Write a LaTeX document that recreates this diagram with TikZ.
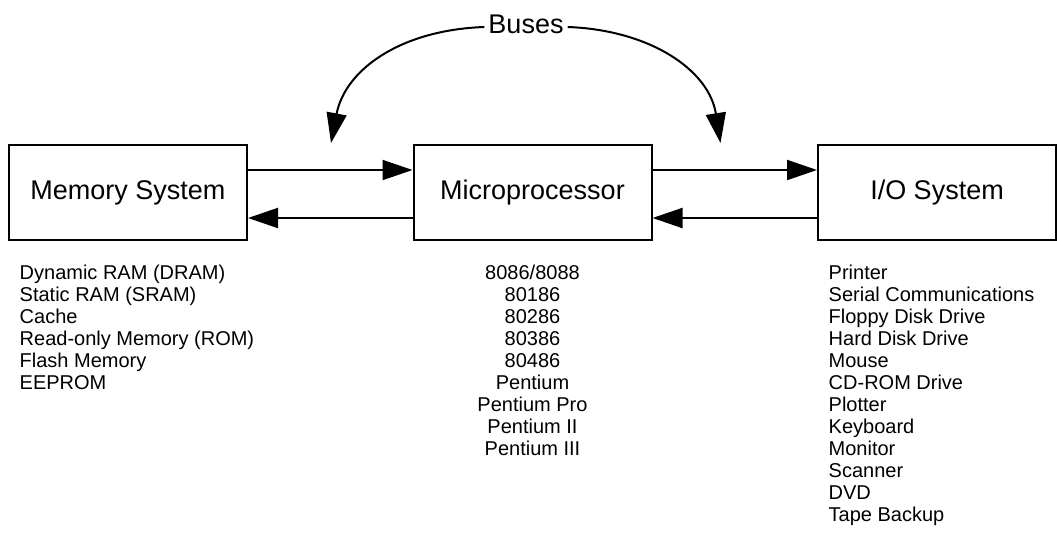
\documentclass[tikz,border=0pt]{standalone}
\usepackage{fontspec}
\setmainfont{Liberation Sans}
\usetikzlibrary{arrows.meta, positioning}
\tikzset{
>={Triangle[length=30pt, width=20pt]}, % big filled arrow heads
node distance=404.5pt, % centre to centre distance of the three units
block/.style={draw, line width=2pt, minimum width=238pt, minimum height=95pt, font=\fontsize{27}{32}\selectfont}, % the unit boxes
link/.style={->, line width=2pt}, % connectors between the units
parts/.style={inner sep=0pt, font=\fontsize{20}{22}\selectfont}, % the lists under the boxes
}

\begin{document}
\begin{tikzpicture}[x=1pt, y=1pt]
    \useasboundingbox (0,0) rectangle (1057,-551);
    \node[block] (mem) at (128,-192.5) {Memory System};
    \node[block, right of=mem] (cpu) {Microprocessor};
    \node[block, right of=cpu] (io) {I/O System};
    \node[inner sep=4pt, font=\fontsize{27}{32}\selectfont] (buses) at (526,-24) {Buses};
    \coordinate (busL) at (331,-143);
    \coordinate (busR) at (720.5,-143);
    \draw[link] ([yshift=22.5pt]mem.east) -- ([yshift=22.5pt]cpu.west);
    \draw[link] ([yshift=-25.5pt]cpu.west) -- ([yshift=-25.5pt]mem.east);
    \draw[link] ([yshift=22.5pt]cpu.east) -- ([yshift=22.5pt]io.west);
    \draw[link] ([yshift=-25.5pt]io.west) -- ([yshift=-25.5pt]cpu.east);
    \draw[link] ([yshift=-3pt]buses.west) .. controls (400,-30) and (345,-70) .. (busL);
    \draw[link] ([yshift=-3pt]buses.east) .. controls (650,-30) and (709,-70) .. (busR);
    \node[parts, anchor=north west, align=left] (memlist) at ([xshift=11.5pt, yshift=-24pt]mem.south west)
        {Dynamic RAM (DRAM)\\Static RAM (SRAM)\\Cache\\Read-only Memory (ROM)\\Flash Memory\\EEPROM};
    \node[parts, anchor=north, align=center] (cpulist) at ([yshift=-24pt]cpu.south)
        {8086/8088\\80186\\80286\\80386\\80486\\Pentium\\Pentium Pro\\Pentium II\\Pentium III};
    \node[parts, anchor=north west, align=left] (iolist) at ([xshift=11.5pt, yshift=-24pt]io.south west)
        {Printer\\Serial Communications\\Floppy Disk Drive\\Hard Disk Drive\\Mouse\\CD-ROM Drive\\Plotter\\Keyboard\\Monitor\\Scanner\\DVD\\Tape Backup};
  \end{tikzpicture}
\end{document}
